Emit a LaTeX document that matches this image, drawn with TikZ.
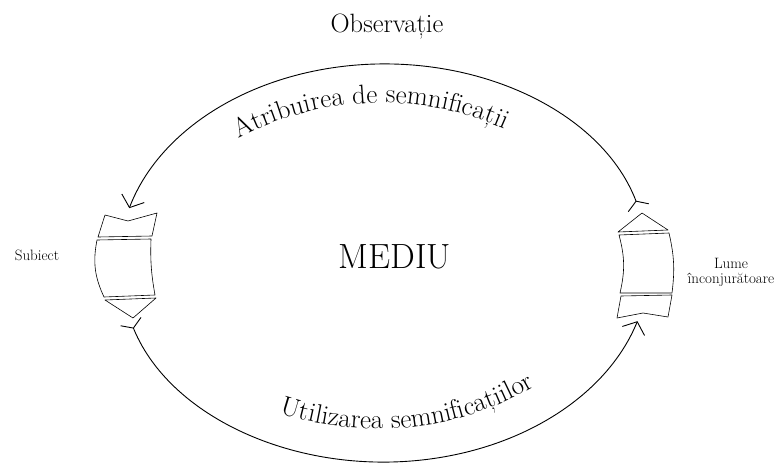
\documentclass[tikz,border=0pt]{standalone}
\usetikzlibrary{arrows.meta,decorations.text}

\begin{document}
\begin{tikzpicture}[x=1pt, y=1pt,
    piece/.style={draw, line width=0.6pt, line join=round},
    flow/.style={line width=0.9pt, {Straight Barb[reversed, length=7pt, width=22pt]}-{Straight Barb[length=10pt, width=24pt]}},
    curvedtext/.style={decoration={text along path, text align=center, text={#1}}, decorate}]
    \useasboundingbox (0,0) rectangle (781,467);

    % texts
    \node[font=\fontsize{26.5}{30}\selectfont, anchor=base] (obs) at (387,434) {Observație};
    \node[font=\fontsize{35}{42}\selectfont, anchor=base] (mediu) at (395,199) {MEDIU};
    \node[font=\fontsize{15}{18}\selectfont, anchor=base] (subiect) at (37,207) {Subiect};
    \node[font=\fontsize{15}{15}\selectfont, align=center, inner sep=0pt] (lume) at (731,195) {Lume\\înconjurătoare};

    % subject block
    \draw[piece] (105,252) -- (128,246) -- (157,254) -- (152,231) -- (98,230) -- cycle;
    \draw[piece] (97,227) to[bend right=18] (104,170) -- (155,172) to[bend left=6] (151,228) -- cycle;
    \draw[piece] (105,167) -- (133,149) -- (156,169) -- cycle;

    % world block
    \draw[piece] (618,235) -- (642,254) -- (668,237) -- cycle;
    \draw[piece] (619,232) to[bend left=14] (620,174) -- (672,174) to[bend right=10] (669,234) -- cycle;
    \draw[piece] (621,171) -- (617,149) -- (643,154) -- (668,150) -- (672,172) -- cycle;

    % cycle arrows
    \coordinate (lumeOut) at ([shift={(16:265 and 199)}]384,204);
    \coordinate (subiectOut) at ([shift={(197:265 and 199)}]384,204);
    \draw[flow] (lumeOut) arc[start angle=16, end angle=164, x radius=265, y radius=199];
    \draw[flow] (subiectOut) arc[start angle=197, end angle=343, x radius=265, y radius=199];

    % arc labels
    \path[curvedtext={|\fontsize{27}{30}\selectfont|Atribuirea de semnificații}]
        ([shift={(130:303)}]381,61) arc[start angle=130, end angle=54, radius=303];
    \path[curvedtext={|\fontsize{27}{30}\selectfont|Utilizarea semnificațiilor}]
        ([shift={(240:310)}]378,348) arc[start angle=240, end angle=312, radius=310];
\end{tikzpicture}
\end{document}
